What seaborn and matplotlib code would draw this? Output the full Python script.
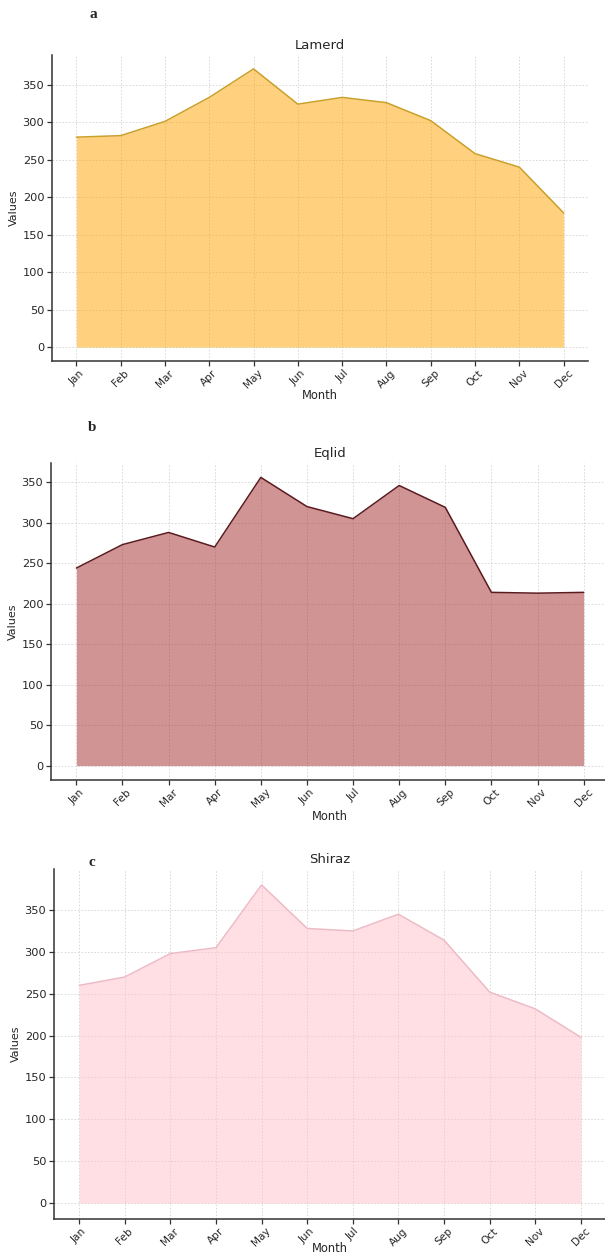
import numpy as np
import pandas as pd
import matplotlib
matplotlib.use("Agg")
import matplotlib.pyplot as plt
import seaborn as sns

# Monthly values per station
months = ["Jan", "Feb", "Mar", "Apr", "May", "Jun",
          "Jul", "Aug", "Sep", "Oct", "Nov", "Dec"]
lamerd = [280, 282, 301, 333, 371, 324, 333, 326, 302, 258, 240, 179]
eqlid = [244, 273, 288, 270, 356, 320, 305, 346, 319, 214, 213, 214]
shiraz = [260, 270, 298, 305, 380, 328, 325, 345, 314, 252, 232, 198]

stations = ["Lamerd", "Eqlid", "Shiraz"]
panel_letters = ["a", "b", "c"]
series = [lamerd, eqlid, shiraz]

fill_colors = ["orange", "brown", "pink"]
line_colors = ["#C9A02A", "#5A1A1E", "#EDBBC6"]

sns.set_style("whitegrid", {"grid.linestyle": "--", "grid.color": "#dcdcdc",
                            "axes.edgecolor": "#333333"})
plt.rcParams["font.family"] = ["DejaVu Sans"]

W, H = 605, 1254
fig = plt.figure(figsize=(W / 100, H / 100), dpi=100)

# axes boxes in pixels: left, right, top, bottom
boxes = [(52, 588, 55, 361), (51, 609, 463, 780), (54, 606, 869, 1219)]
letter_pos = [(93, 15), (92, 428), (92, 862)]
# pixel row of the top of each "Month" label
xlabel_tops = [389, 810, 1242]

for name, letter, vals, fc, lc, box, lp, xtop in zip(
        stations, panel_letters, series, fill_colors, line_colors, boxes,
        letter_pos, xlabel_tops):
    l, r, t, b = box
    ax = fig.add_axes([l / W, 1 - b / H, (r - l) / W, (b - t) / H])
    df = pd.DataFrame({"pos": np.arange(len(months)), "Month": months, "Values": vals})
    ax.fill_between(df["pos"], df["Values"], color=fc, alpha=0.5, linewidth=0, zorder=2)
    sns.lineplot(data=df, x="pos", y="Values", ax=ax, color=lc, linewidth=1.1, zorder=3)
    ax.set_xticks(df["pos"])
    ax.set_xticklabels(months, rotation=45, ha="center")
    ax.set_xlabel("Month", fontsize=8.3)
    ax.xaxis.set_label_coords(0.5, (b - xtop) / (b - t))
    ax.set_ylabel("Values", fontsize=8, labelpad=3)
    ax.set_title(name, fontsize=9.5, pad=4)
    ax.tick_params(axis="both", labelsize=8.2, length=3.5, width=0.9,
                   bottom=True, left=True, color="#333333", pad=2)
    ax.tick_params(axis="x", labelsize=7.6, pad=1.5)
    ax.grid(True, linestyle=(0, (2, 2)), color="#d5d5d5", linewidth=0.6, zorder=0)
    ax.set_axisbelow(True)
    sns.despine(ax=ax)
    for side in ("left", "bottom"):
        ax.spines[side].set_linewidth(1.1)
        ax.spines[side].set_color("#333333")
    fig.text(lp[0] / W, 1 - lp[1] / H, letter, fontsize=11, fontweight="bold",
             family=["Liberation Serif"], ha="center", va="center")

fig.savefig("out.png", dpi=100)
